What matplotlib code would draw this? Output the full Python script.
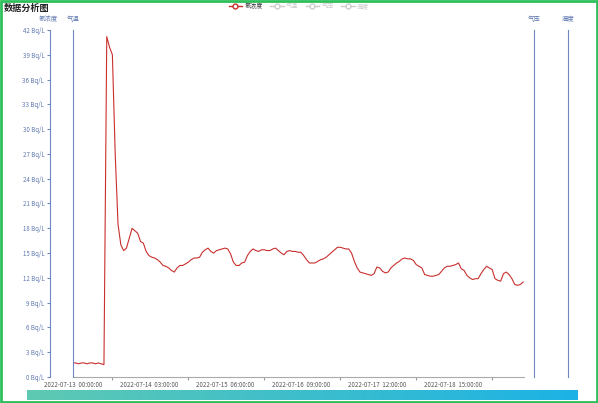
import numpy as np
import matplotlib.pyplot as plt
from matplotlib.lines import Line2D
from matplotlib.patches import Rectangle

plt.rcParams['font.family'] = ['Noto Sans CJK SC', 'DejaVu Sans']

# hourly radon readings from 2022-07-13 00:00
hours = list(range(161))
radon = [
    1.7, 1.7, 1.6, 1.7, 1.7, 1.6, 1.7, 1.7, 1.6, 1.7, 1.6, 1.5,
    41.2, 39.9, 39.0, 27.0, 18.5, 16.0, 15.3, 15.6, 16.8, 18.0, 17.7, 17.4,
    16.4, 16.2, 15.2, 14.7, 14.5, 14.4, 14.2, 13.9, 13.5, 13.4, 13.2, 12.9,
    12.7, 13.2, 13.5, 13.5, 13.7, 13.9, 14.2, 14.4, 14.4, 14.5, 15.1, 15.4,
    15.6, 15.2, 15.0, 15.3, 15.4, 15.5, 15.6, 15.5, 14.9, 13.9, 13.5, 13.5,
    13.8, 13.9, 14.7, 15.2, 15.5, 15.3, 15.2, 15.4, 15.4, 15.3, 15.3, 15.5,
    15.6, 15.3, 15.0, 14.8, 15.2, 15.3, 15.2, 15.2, 15.1, 15.1, 14.7, 14.2,
    13.8, 13.8, 13.8, 14.0, 14.2, 14.3, 14.5, 14.8, 15.1, 15.4, 15.7, 15.7,
    15.6, 15.5, 15.5, 15.0, 14.0, 13.2, 12.7, 12.6, 12.5, 12.4, 12.3, 12.5,
    13.3, 13.2, 12.8, 12.6, 12.7, 13.2, 13.5, 13.8, 14.0, 14.3, 14.4, 14.3,
    14.3, 14.1, 13.6, 13.4, 13.2, 12.4, 12.3, 12.2, 12.2, 12.3, 12.4, 12.8,
    13.2, 13.4, 13.4, 13.5, 13.6, 13.8, 13.1, 12.9, 12.3, 12.0, 11.8, 11.9,
    11.9, 12.5, 13.0, 13.4, 13.2, 13.0, 11.9, 11.7, 11.6, 12.5, 12.7, 12.4,
    11.9, 11.2, 11.1, 11.2, 11.5,
]

x_labels = ['2022-07-13  00:00:00', '2022-07-14  03:00:00', '2022-07-15  06:00:00',
            '2022-07-16  09:00:00', '2022-07-17  12:00:00', '2022-07-18  15:00:00']
label_hours = [0, 27, 54, 81, 108, 135]
tick_hours = [14, 41, 68, 95, 122, 149]
y_ticks = list(range(0, 43, 3))
series_names = ['氡浓度', '气温', '气压', '湿度']

W, H = 598, 403
axis_blue = '#7088c0'
label_blue = '#5f78b0'

fig = plt.figure(figsize=(W / 100, H / 100), dpi=100)
x0, x1, y0, y1 = 73, 524, 30, 377
aw = x1 - x0
ax = fig.add_axes([x0 / W, 1 - y1 / H, aw / W, (y1 - y0) / H])

line, = ax.plot(hours, radon, color='#c8302e', lw=0.8)
ax.set_xlim(0, 160.3)
ax.set_ylim(0, 42)

# radon axis, pushed out to the left
ax.spines['left'].set_position(('axes', -23 / aw))
ax.spines['left'].set_color(axis_blue)
ax.spines['top'].set_visible(False)
ax.spines['right'].set_visible(False)
ax.spines['bottom'].set_color('#aaaaaa')
ax.set_yticks(y_ticks)
ax.set_yticklabels([f'{v} Bq/L' for v in y_ticks])
ax.tick_params(axis='y', colors=axis_blue, labelcolor=label_blue, length=2.5,
               width=0.8, labelsize=4.4, pad=1.5)

ax.set_xticks(tick_hours)
ax.set_xticklabels([])
ax.tick_params(axis='x', which='major', colors='#999999', length=2.5, width=0.8)
ax.set_xticks(label_hours, minor=True)
ax.set_xticklabels(x_labels, minor=True)
ax.tick_params(axis='x', which='minor', length=0, labelsize=4.4,
               labelcolor='#555555', pad=3)

# empty axes for the other series
for name, px in zip(series_names[1:], [73, 534, 568]):
    tw = ax.twinx()
    tw.set_yticks([])
    for s in ['top', 'left', 'bottom']:
        tw.spines[s].set_visible(False)
    tw.spines['right'].set_position(('axes', (px - x0) / aw))
    tw.spines['right'].set_color(axis_blue)

for name, px in zip(series_names, [48, 73, 534, 568]):
    fig.text(px / W, 1 - 19 / H, name, fontsize=4.6, color=label_blue,
             ha='center', va='center')

# legend
handles = [Line2D([], [], color='#c8302e', lw=1, marker='o', markersize=3.5,
                  markerfacecolor='white')]
handles += [Line2D([], [], color='#cccccc', lw=1, marker='o', markersize=3.5,
                   markerfacecolor='white') for _ in series_names[1:]]
leg = fig.legend(handles, series_names, loc='center', bbox_to_anchor=(299 / W, 1 - 6 / H),
                 ncol=4, frameon=False, fontsize=4.4, handlelength=2.2,
                 columnspacing=1.2, handletextpad=0.4)
for i, t in enumerate(leg.get_texts()):
    t.set_color('#333333' if i == 0 else '#cccccc')

fig.text(4 / W, 1 - 8 / H, '数据分析图', fontsize=6.6, fontweight='bold',
         va='center', color='#222222')

# data zoom bar
zax = fig.add_axes([27 / W, 1 - 400 / H, (578 - 27) / W, 10 / H])
c_left = np.array([0.37, 0.79, 0.70])
c_right = np.array([0.11, 0.70, 0.90])
t = np.linspace(0, 1, 256)[:, None]
grad = (c_left * (1 - t) + c_right * t)[None, :, :]
zax.imshow(grad, aspect='auto', extent=[0, 1, 0, 1])
zax.axis('off')

fig.patches.append(Rectangle((0.0015, 0.002), 0.997, 0.995, transform=fig.transFigure,
                             fill=False, ec='#2cbf5a', lw=2))

fig.savefig('out.png', dpi=100)
